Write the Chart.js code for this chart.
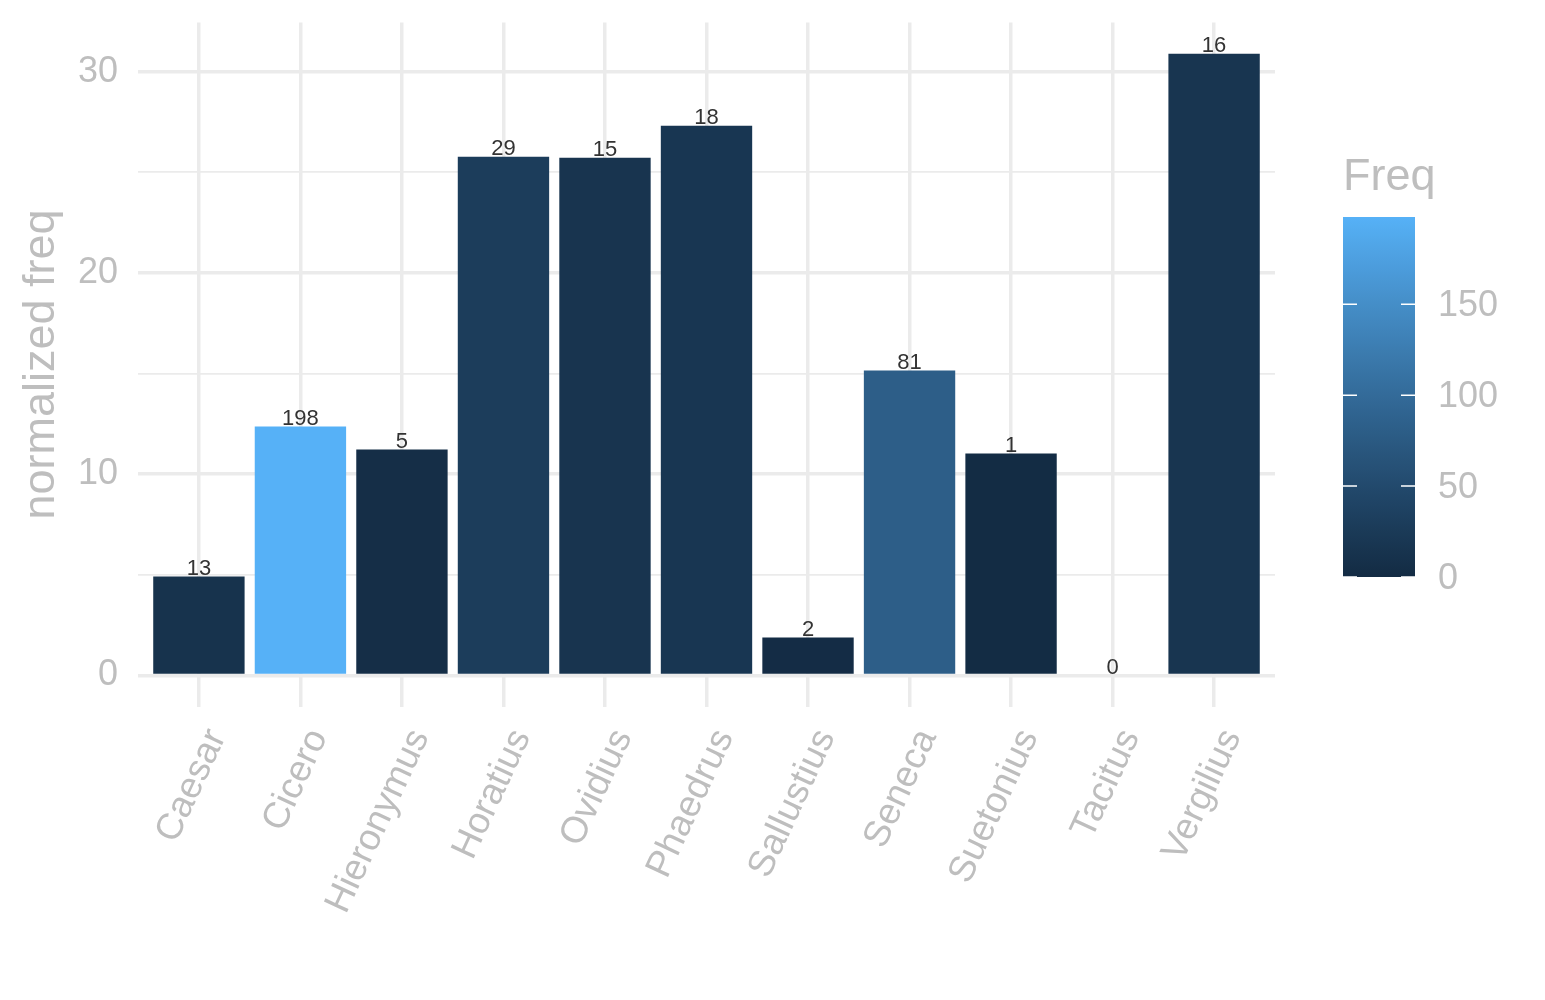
<!DOCTYPE html>
<html>
<head>
<meta charset="utf-8">
<script src="https://cdn.jsdelivr.net/npm/chart.js@4.4.1/dist/chart.umd.min.js"></script>
<style>
  html, body { margin: 0; padding: 0; background: #fff; }
  #wrap { width: 1545px; height: 1000px; }
</style>
</head>
<body>
<div id="wrap"><canvas id="myChart" width="1545" height="1000"></canvas></div>
<script>
// data
const authors = ['Caesar', 'Cicero', 'Hieronymus', 'Horatius', 'Ovidius', 'Phaedrus',
                 'Sallustius', 'Seneca', 'Suetonius', 'Tacitus', 'Vergilius'];
const normFreq = [4.92, 12.37, 11.23, 25.78, 25.73, 27.32, 1.89, 15.15, 11.03, 0, 30.9];
const freq = [13, 198, 5, 29, 15, 18, 2, 81, 1, 0, 16];
const yTicks = [0, 10, 20, 30];
const legendTicks = [0, 50, 100, 150];

const grey = '#BEBEBE';
const gridColor = '#EBEBEB';
const font = '"Liberation Sans", Arial, sans-serif';

// ggplot-like gradient #132B43 -> #56B1F7, interpolated in Lab
function hexToLab(hex) {
    const c = [1, 3, 5].map(i => parseInt(hex.substr(i, 2), 16) / 255)
        .map(v => v <= 0.04045 ? v / 12.92 : Math.pow((v + 0.055) / 1.055, 2.4));
    let x = (c[0] * 0.4124 + c[1] * 0.3576 + c[2] * 0.1805) / 0.95047;
    let y = (c[0] * 0.2126 + c[1] * 0.7152 + c[2] * 0.0722);
    let z = (c[0] * 0.0193 + c[1] * 0.1192 + c[2] * 0.9505) / 1.08883;
    const f = t => t > 0.008856 ? Math.cbrt(t) : 7.787 * t + 16 / 116;
    x = f(x); y = f(y); z = f(z);
    return [116 * y - 16, 500 * (x - y), 200 * (y - z)];
}
function labToRgb(lab) {
    let y = (lab[0] + 16) / 116, x = lab[1] / 500 + y, z = y - lab[2] / 200;
    const f = t => t * t * t > 0.008856 ? t * t * t : (t - 16 / 116) / 7.787;
    x = f(x) * 0.95047; y = f(y); z = f(z) * 1.08883;
    let r = x * 3.2406 + y * -1.5372 + z * -0.4986;
    let g = x * -0.9689 + y * 1.8758 + z * 0.0415;
    let b = x * 0.0557 + y * -0.2040 + z * 1.0570;
    const g2 = v => {
        v = v > 0.0031308 ? 1.055 * Math.pow(v, 1 / 2.4) - 0.055 : 12.92 * v;
        return Math.round(Math.max(0, Math.min(1, v)) * 255);
    };
    return 'rgb(' + g2(r) + ',' + g2(g) + ',' + g2(b) + ')';
}
const labLow = hexToLab('#132B43');
const labHigh = hexToLab('#56B1F7');
const freqMin = Math.min(...freq);
const freqMax = Math.max(...freq);
function freqColor(v) {
    const t = (v - freqMin) / (freqMax - freqMin);
    return labToRgb(labLow.map((l, i) => l + (labHigh[i] - l) * t));
}

// value labels on top of bars
const barLabels = {
    id: 'barLabels',
    afterDatasetsDraw(chart) {
        const ctx = chart.ctx;
        const meta = chart.getDatasetMeta(0);
        ctx.save();
        ctx.font = '22px ' + font;
        ctx.fillStyle = '#333333';
        ctx.textAlign = 'center';
        ctx.textBaseline = 'alphabetic';
        meta.data.forEach((bar, i) => {
            ctx.fillText(String(freq[i]), bar.x, bar.y - 1.5);
        });
        ctx.restore();
    }
};

// colourbar legend
const colorBar = {
    id: 'colorBar',
    afterDraw(chart) {
        const ctx = chart.ctx;
        const x0 = 1343, w = 72, yBottom = 577, yTop = 217;
        const pxPer = (yBottom - yTop) / (freqMax - freqMin);
        ctx.save();
        ctx.font = '45px ' + font;
        ctx.fillStyle = grey;
        ctx.textAlign = 'left';
        ctx.textBaseline = 'alphabetic';
        ctx.fillText('Freq', x0, 190);

        const grad = ctx.createLinearGradient(0, yBottom, 0, yTop);
        for (let s = 0; s <= 20; s++) {
            grad.addColorStop(s / 20, freqColor(freqMin + (freqMax - freqMin) * s / 20));
        }
        ctx.fillStyle = grad;
        ctx.fillRect(x0, yTop, w, yBottom - yTop);

        ctx.strokeStyle = '#ffffff';
        ctx.lineWidth = 1.5;
        ctx.font = '36px ' + font;
        ctx.fillStyle = grey;
        ctx.textBaseline = 'middle';
        legendTicks.forEach(t => {
            const y = yBottom - (t - freqMin) * pxPer;
            ctx.beginPath();
            ctx.moveTo(x0, y); ctx.lineTo(x0 + 14, y);
            ctx.moveTo(x0 + w - 14, y); ctx.lineTo(x0 + w, y);
            ctx.stroke();
            ctx.fillText(String(t), 1438, y + 2);
        });
        ctx.restore();
    }
};

const config = {
    type: 'bar',
    data: {
        datasets: [{
            data: normFreq.map((v, i) => ({ x: i + 1, y: v })),
            backgroundColor: freq.map(freqColor),
            borderWidth: 0,
            barPercentage: 0.9,
            categoryPercentage: 1.0,
        }],
    },
    options: {
        responsive: false,
        animation: false,
        layout: { padding: { left: 0, top: 22.5, right: 270, bottom: 0 } },
        plugins: {
            legend: { display: false },
            tooltip: { enabled: false },
        },
        scales: {
            x: {
                type: 'linear',
                min: 0.4,
                max: 11.6,
                offset: false,
                afterBuildTicks: s => { s.ticks = authors.map((_, i) => ({ value: i + 1 })); },
                afterFit: s => { s.height = 293.5; s.paddingLeft = 0; s.paddingRight = 0; },
                grid: { color: gridColor, lineWidth: 3.5, drawTicks: false, offset: false },
                border: { display: false },
                ticks: {
                    autoSkip: false,
                    minRotation: 65,
                    maxRotation: 65,
                    padding: 16,
                    labelOffset: 18,
                    color: grey,
                    font: { family: font, size: 37 },
                    callback: v => authors[v - 1],
                },
            },
            y: {
                min: -1.545,
                max: 32.45,
                afterBuildTicks: s => { s.ticks = [0, 5, 10, 15, 20, 25, 30].map(v => ({ value: v })); },
                afterFit: s => { s.width = 138; s.paddingTop = 0; s.paddingBottom = 0; },
                grid: {
                    color: gridColor,
                    lineWidth: c => yTicks.includes(c.tick.value) ? 3.5 : 1.8,
                    drawTicks: false,
                },
                border: { display: false },
                ticks: {
                    padding: 20,
                    color: grey,
                    font: { family: font, size: 36 },
                    callback: v => yTicks.includes(v) ? String(v) : '',
                },
                title: {
                    display: true,
                    text: 'normalized freq',
                    color: grey,
                    font: { family: font, size: 45 },
                    padding: { top: 15, bottom: 0 },
                },
            },
        },
    },
    plugins: [barLabels, colorBar],
};

const myChart = new Chart(document.getElementById('myChart'), config);
</script>
</body>
</html>
